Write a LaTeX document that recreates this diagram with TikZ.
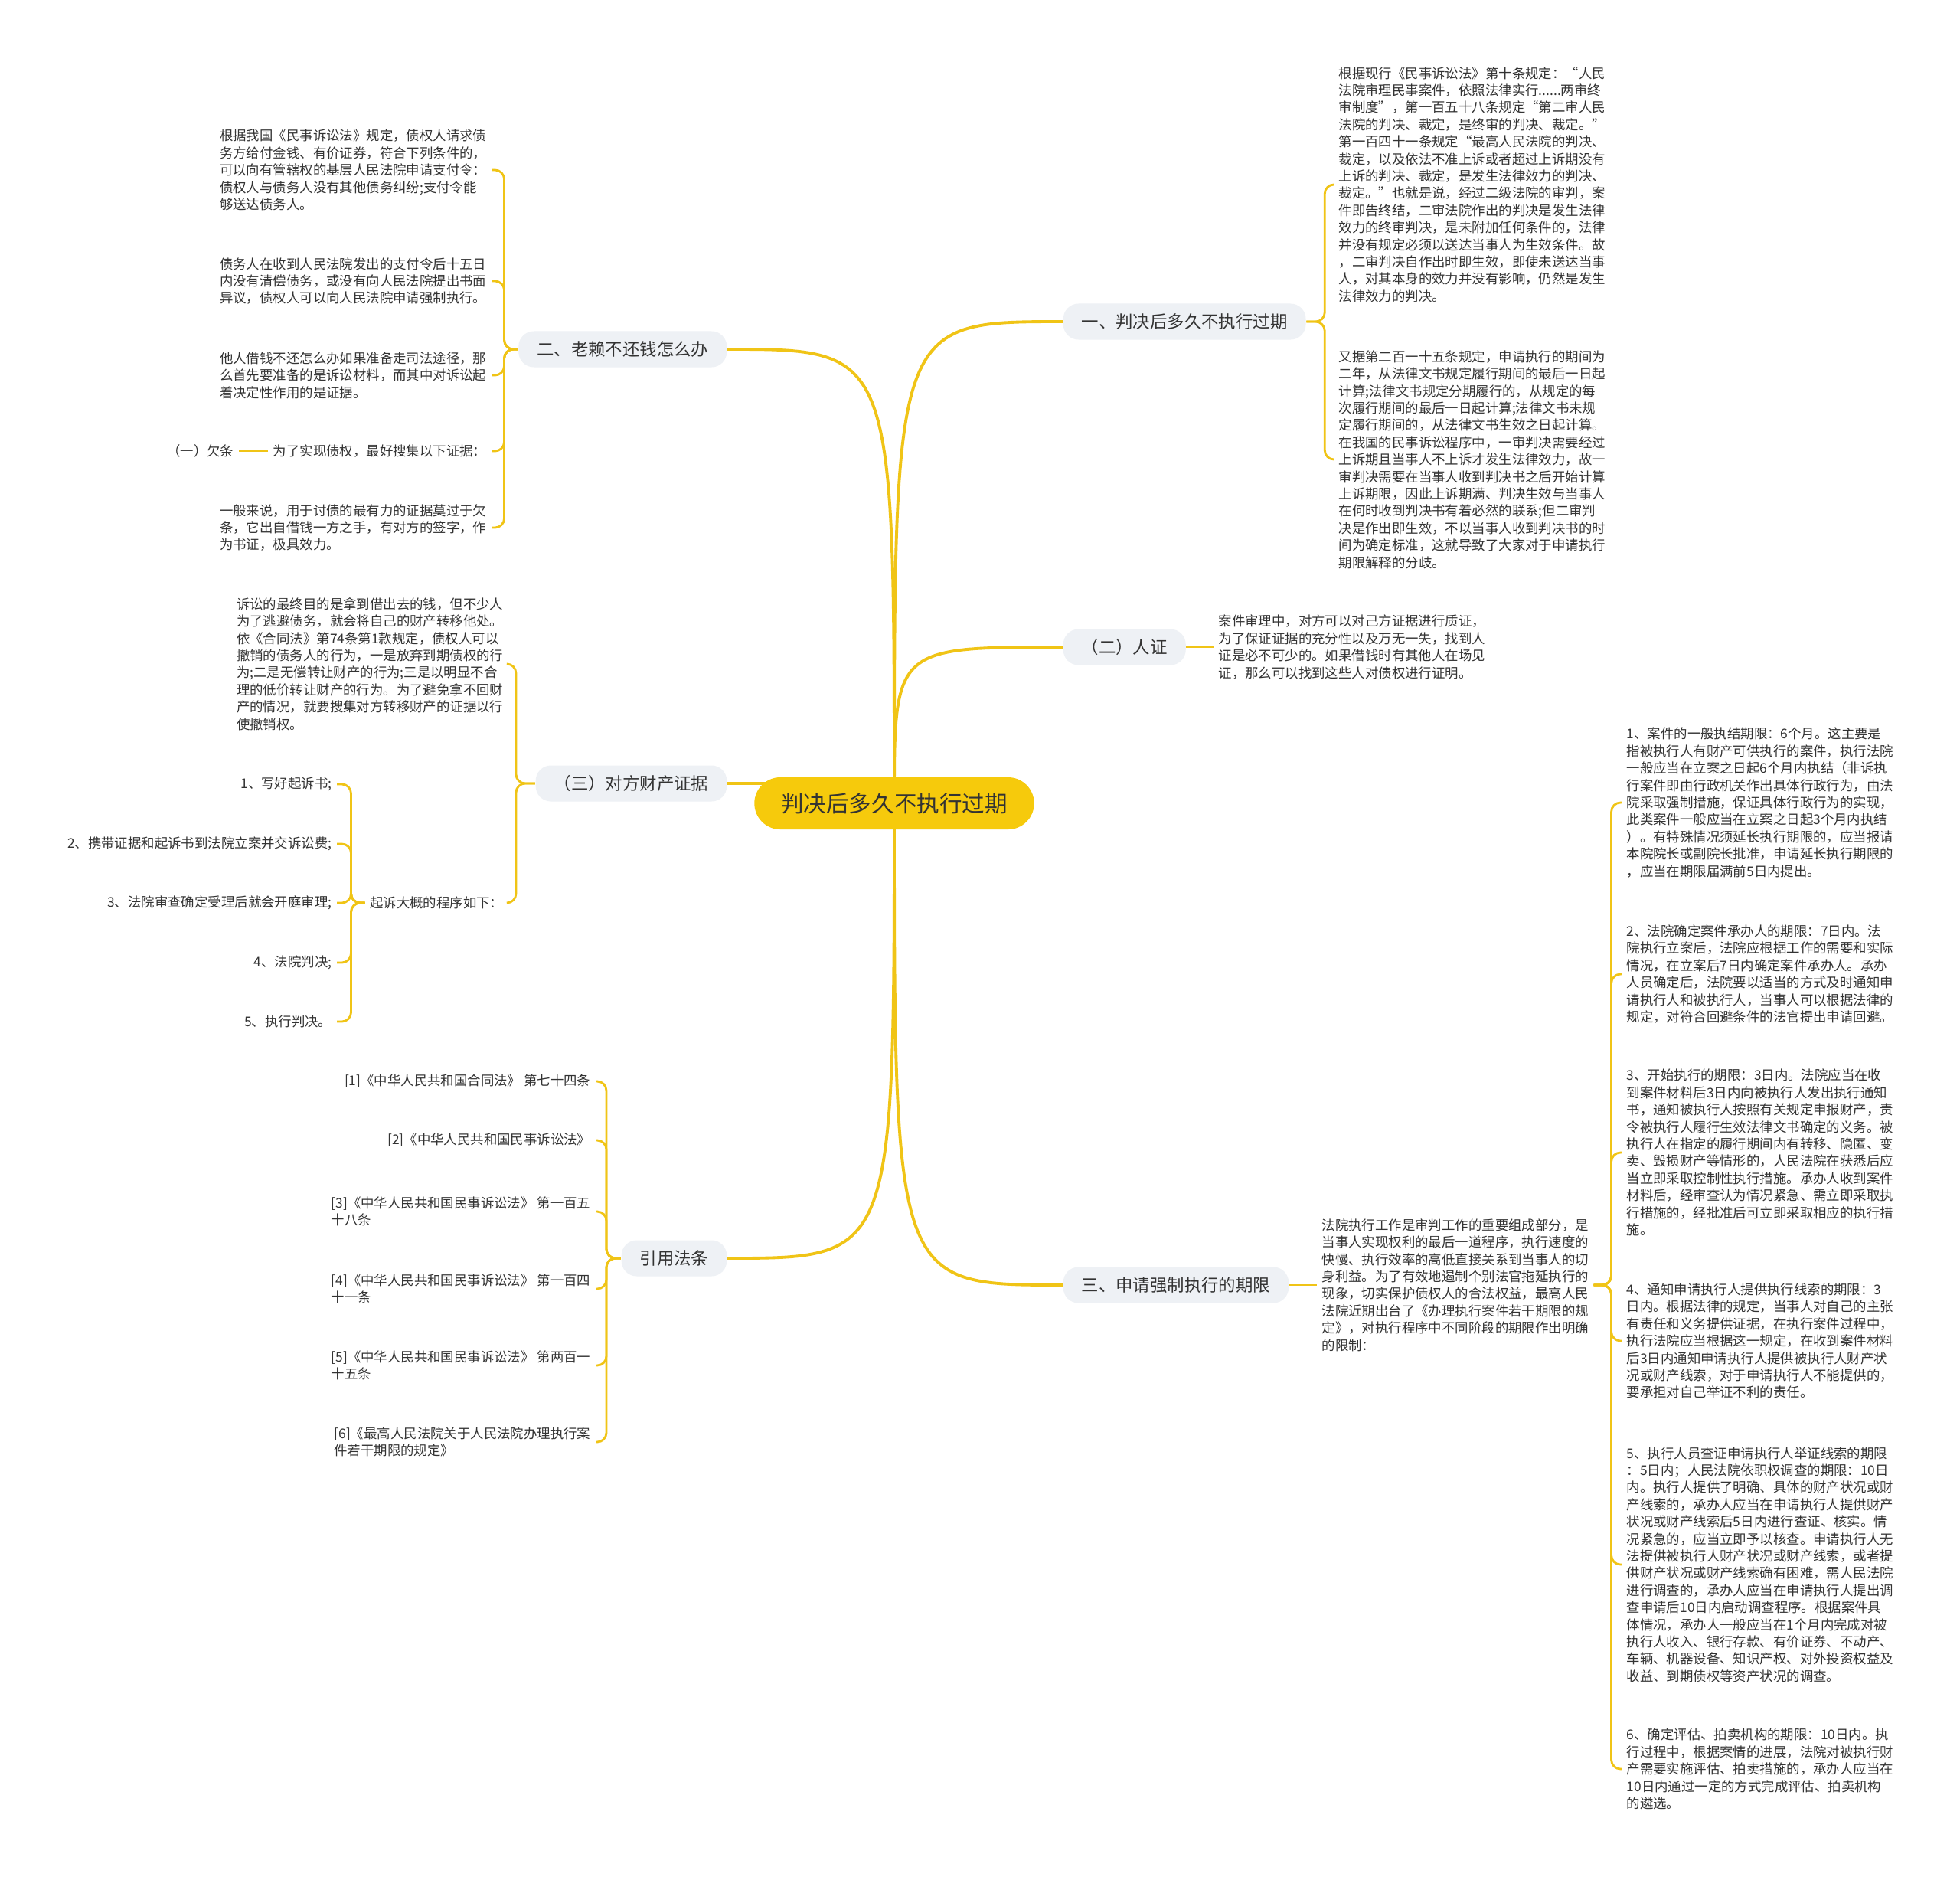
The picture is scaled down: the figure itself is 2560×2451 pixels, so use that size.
\documentclass[tikz,border=0pt]{standalone}
\usepackage{fontspec}
\setmainfont{Noto Sans CJK SC}
\usetikzlibrary{positioning,backgrounds}
\definecolor{linkyellow}{RGB}{240,196,22}
\definecolor{rootyellow}{RGB}{246,202,12}
\definecolor{topicgray}{RGB}{238,241,245}
\definecolor{txtgray}{RGB}{51,51,51}

\begin{document}
\begin{tikzpicture}[
  x=0.01cm, y=-0.01cm,
  root/.style={fill=rootyellow, rounded corners=0.34cm, minimum height=0.68cm,
               inner xsep=0.35cm, font=\fontsize{8.4}{10}\selectfont, text=txtgray},
  topic/.style={fill=topicgray, rounded corners=0.2cm, minimum height=0.47cm,
                inner xsep=0.24cm, font=\fontsize{6.37}{8}\selectfont, text=txtgray},
  leaf/.style={align=left, inner sep=0.06cm, font=\fontsize{4.95}{6.37}\selectfont, text=txtgray},
  mainlink/.style={draw=linkyellow, line width=1.1pt},
  sublink/.style={draw=linkyellow, line width=0.8pt, rounded corners=0.12cm}
]
  \useasboundingbox (0,0) rectangle (2560,2451);

  % root and main topics
  \node[root] (root) at (1168,1049) {判决后多久不执行过期};
  \node[topic, anchor=west] (t1) at (1388,420) {一、判决后多久不执行过期};
  \node[topic, anchor=west] (t2) at (1388,845) {（二）人证};
  \node[topic, anchor=west] (t3) at (1388,1678) {三、申请强制执行的期限};
  \node[topic, anchor=east] (t4) at (950,456) {二、老赖不还钱怎么办};
  \node[topic, anchor=east] (t5) at (950,1023) {（三）对方财产证据};
  \node[topic, anchor=east] (t6) at (950,1643) {引用法条};

  % right: 一
  \node[leaf, anchor=west] (l1) at (1742,241) {根据现行《民事诉讼法》第十条规定：“人民\\
法院审理民事案件，依照法律实行......两审终\\
审制度”，第一百五十八条规定“第二审人民\\
法院的判决、裁定，是终审的判决、裁定。”\\
第一百四十一条规定“最高人民法院的判决、\\
裁定，以及依法不准上诉或者超过上诉期没有\\
上诉的判决、裁定，是发生法律效力的判决、\\
裁定。”也就是说，经过二级法院的审判，案\\
件即告终结，二审法院作出的判决是发生法律\\
效力的终审判决，是未附加任何条件的，法律\\
并没有规定必须以送达当事人为生效条件。故\\
，二审判决自作出时即生效，即使未送达当事\\
人，对其本身的效力并没有影响，仍然是发生\\
法律效力的判决。};
  \node[leaf, anchor=west] (l2) at (1742,600) {又据第二百一十五条规定，申请执行的期间为\\
二年，从法律文书规定履行期间的最后一日起\\
计算;法律文书规定分期履行的，从规定的每\\
次履行期间的最后一日起计算;法律文书未规\\
定履行期间的，从法律文书生效之日起计算。\\
在我国的民事诉讼程序中，一审判决需要经过\\
上诉期且当事人不上诉才发生法律效力，故一\\
审判决需要在当事人收到判决书之后开始计算\\
上诉期限，因此上诉期满、判决生效与当事人\\
在何时收到判决书有着必然的联系;但二审判\\
决是作出即生效，不以当事人收到判决书的时\\
间为确定标准，这就导致了大家对于申请执行\\
期限解释的分歧。};

  % right: 人证
  \node[leaf, anchor=west] (p2) at (1585,845) {案件审理中，对方可以对己方证据进行质证，\\
为了保证证据的充分性以及万无一失，找到人\\
证是必不可少的。如果借钱时有其他人在场见\\
证，那么可以找到这些人对债权进行证明。};

  % right: 三
  \node[leaf, anchor=west] (p3) at (1720,1678) {法院执行工作是审判工作的重要组成部分，是\\
当事人实现权利的最后一道程序，执行速度的\\
快慢、执行效率的高低直接关系到当事人的切\\
身利益。为了有效地遏制个别法官拖延执行的\\
现象，切实保护债权人的合法权益，最高人民\\
法院近期出台了《办理执行案件若干期限的规\\
定》，对执行程序中不同阶段的期限作出明确\\
的限制：};
  \node[leaf, anchor=west] (r1) at (2118,1048) {1、案件的一般执结期限：6个月。这主要是\\
指被执行人有财产可供执行的案件，执行法院\\
一般应当在立案之日起6个月内执结（非诉执\\
行案件即由行政机关作出具体行政行为，由法\\
院采取强制措施，保证具体行政行为的实现，\\
此类案件一般应当在立案之日起3个月内执结\\
）。有特殊情况须延长执行期限的，应当报请\\
本院院长或副院长批准，申请延长执行期限的\\
，应当在期限届满前5日内提出。};
  \node[leaf, anchor=west] (r2) at (2118,1272) {2、法院确定案件承办人的期限：7日内。法\\
院执行立案后，法院应根据工作的需要和实际\\
情况，在立案后7日内确定案件承办人。承办\\
人员确定后，法院要以适当的方式及时通知申\\
请执行人和被执行人，当事人可以根据法律的\\
规定，对符合回避条件的法官提出申请回避。};
  \node[leaf, anchor=west] (r3) at (2118,1505) {3、开始执行的期限：3日内。法院应当在收\\
到案件材料后3日内向被执行人发出执行通知\\
书，通知被执行人按照有关规定申报财产，责\\
令被执行人履行生效法律文书确定的义务。被\\
执行人在指定的履行期间内有转移、隐匿、变\\
卖、毁损财产等情形的，人民法院在获悉后应\\
当立即采取控制性执行措施。承办人收到案件\\
材料后，经审查认为情况紧急、需立即采取执\\
行措施的，经批准后可立即采取相应的执行措\\
施。};
  \node[leaf, anchor=west] (r4) at (2118,1751) {4、通知申请执行人提供执行线索的期限：3\\
日内。根据法律的规定，当事人对自己的主张\\
有责任和义务提供证据，在执行案件过程中，\\
执行法院应当根据这一规定，在收到案件材料\\
后3日内通知申请执行人提供被执行人财产状\\
况或财产线索，对于申请执行人不能提供的，\\
要承担对自己举证不利的责任。};
  \node[leaf, anchor=west] (r5) at (2118,2043) {5、执行人员查证申请执行人举证线索的期限\\
：5日内；人民法院依职权调查的期限：10日\\
内。执行人提供了明确、具体的财产状况或财\\
产线索的，承办人应当在申请执行人提供财产\\
状况或财产线索后5日内进行查证、核实。情\\
况紧急的，应当立即予以核查。申请执行人无\\
法提供被执行人财产状况或财产线索，或者提\\
供财产状况或财产线索确有困难，需人民法院\\
进行调查的，承办人应当在申请执行人提出调\\
查申请后10日内启动调查程序。根据案件具\\
体情况，承办人一般应当在1个月内完成对被\\
执行人收入、银行存款、有价证券、不动产、\\
车辆、机器设备、知识产权、对外投资权益及\\
收益、到期债权等资产状况的调查。};
  \node[leaf, anchor=west] (r6) at (2118,2310) {6、确定评估、拍卖机构的期限：10日内。执\\
行过程中，根据案情的进展，法院对被执行财\\
产需要实施评估、拍卖措施的，承办人应当在\\
10日内通过一定的方式完成评估、拍卖机构\\
的遴选。};

  % left: 二
  \node[leaf, anchor=east] (a1) at (642,222) {根据我国《民事诉讼法》规定，债权人请求债\\
务方给付金钱、有价证券，符合下列条件的，\\
可以向有管辖权的基层人民法院申请支付令：\\
债权人与债务人没有其他债务纠纷;支付令能\\
够送达债务人。};
  \node[leaf, anchor=east] (a2) at (642,367) {债务人在收到人民法院发出的支付令后十五日\\
内没有清偿债务，或没有向人民法院提出书面\\
异议，债权人可以向人民法院申请强制执行。};
  \node[leaf, anchor=east] (a3) at (642,490) {他人借钱不还怎么办如果准备走司法途径，那\\
么首先要准备的是诉讼材料，而其中对诉讼起\\
着决定性作用的是证据。};
  \node[leaf, anchor=east] (a4) at (642,589) {为了实现债权，最好搜集以下证据：};
  \node[leaf, anchor=east] (qt) at (312,589) {（一）欠条};
  \node[leaf, anchor=east] (a5) at (642,689) {一般来说，用于讨债的最有力的证据莫过于欠\\
条，它出自借钱一方之手，有对方的签字，作\\
为书证，极具效力。};

  % left: 对方财产证据
  \node[leaf, anchor=east] (b1) at (664,867) {诉讼的最终目的是拿到借出去的钱，但不少人\\
为了逃避债务，就会将自己的财产转移他处。\\
依《合同法》第74条第1款规定，债权人可以\\
撤销的债务人的行为，一是放弃到期债权的行\\
为;二是无偿转让财产的行为;三是以明显不合\\
理的低价转让财产的行为。为了避免拿不回财\\
产的情况，就要搜集对方转移财产的证据以行\\
使撤销权。};
  \node[leaf, anchor=east] (b2) at (664,1179) {起诉大概的程序如下：};
  \node[leaf, anchor=east] (c1) at (440,1024) {1、写好起诉书;};
  \node[leaf, anchor=east] (c2) at (440,1102) {2、携带证据和起诉书到法院立案并交诉讼费;};
  \node[leaf, anchor=east] (c3) at (440,1179) {3、法院审查确定受理后就会开庭审理;};
  \node[leaf, anchor=east] (c4) at (440,1257) {4、法院判决;};
  \node[leaf, anchor=east] (c5) at (440,1334) {5、执行判决。};

  % left: 引用法条
  \node[leaf, anchor=east] (d1) at (778,1412) {[1]《中华人民共和国合同法》 第七十四条};
  \node[leaf, anchor=east] (d2) at (778,1489) {[2]《中华人民共和国民事诉讼法》};
  \node[leaf, anchor=east] (d3) at (778,1582) {[3]《中华人民共和国民事诉讼法》 第一百五\\
十八条};
  \node[leaf, anchor=east] (d4) at (778,1683) {[4]《中华人民共和国民事诉讼法》 第一百四\\
十一条};
  \node[leaf, anchor=east] (d5) at (778,1783) {[5]《中华人民共和国民事诉讼法》 第两百一\\
十五条};
  \node[leaf, anchor=east] (d6) at (778,1883) {[6]《最高人民法院关于人民法院办理执行案\\
件若干期限的规定》};

  \begin{pgfonlayer}{background}
    \fill[white] (0,0) rectangle (2560,2451);
    % root to topics
    \foreach \b in {t1,t2,t3}
      \draw[mainlink] (root.center) .. controls (root.center |- \b.west) and (root.center |- \b.west) .. (\b.west);
    \foreach \b in {t4,t5,t6}
      \draw[mainlink] (root.center) .. controls (root.center |- \b.east) and (root.center |- \b.east) .. (\b.east);
    % topics to details
    \foreach \c in {l1,l2}
      \draw[sublink] (t1.east) -- ++(24,0) |- (\c.west);
    \draw[sublink] (t2.east) -- (p2.west);
    \draw[sublink] (t3.east) -- (p3.west);
    \foreach \c in {r1,r2,r3,r4,r5,r6}
      \draw[sublink] (p3.east) -- ++(23,0) |- (\c.west);
    \foreach \c in {a1,a2,a3,a4,a5}
      \draw[sublink] (t4.west) -- ++(-18,0) |- (\c.east);
    \draw[sublink] (a4.west) -- (qt.east);
    \foreach \c in {b1,b2}
      \draw[sublink] (t5.west) -- ++(-25,0) |- (\c.east);
    \foreach \c in {c1,c2,c3,c4,c5}
      \draw[sublink] (b2.west) -- ++(-18,0) |- (\c.east);
    \foreach \c in {d1,d2,d3,d4,d5,d6}
      \draw[sublink] (t6.west) -- ++(-19,0) |- (\c.east);
  \end{pgfonlayer}
\end{tikzpicture}
\end{document}
